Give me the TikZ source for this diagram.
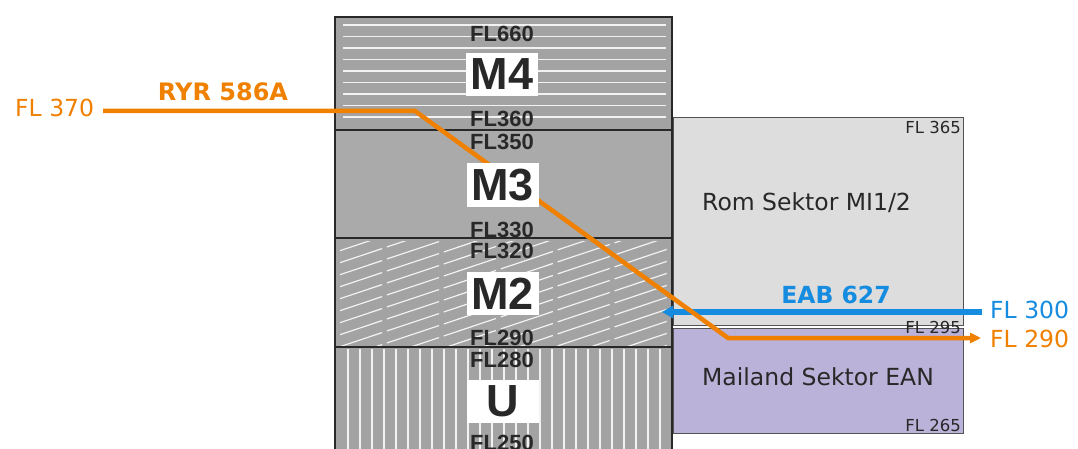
\documentclass[tikz,border=0pt]{standalone}
\usepackage{fontspec}
\setmainfont{DejaVu Sans}
\newfontfamily\lsans{Liberation Sans}
\usetikzlibrary{arrows.meta}
\definecolor{orng}{RGB}{240,128,0}
\definecolor{skyb}{RGB}{22,140,224}
\definecolor{lav}{RGB}{186,178,216}
\definecolor{lgray}{RGB}{221,221,221}
\definecolor{bandgray}{RGB}{163,163,163}
\definecolor{plaingray}{RGB}{170,170,170}
\definecolor{dark}{RGB}{40,40,40}
\tikzset{
  fltag/.style={font=\lsans\bfseries\fontsize{22}{22}\selectfont, text=dark, inner sep=0pt, anchor=base},
  mbox/.style={fill=white, minimum width=72pt, minimum height=43pt, inner sep=0pt, font=\lsans\bfseries\fontsize{45}{45}\selectfont, text=dark},
  sidelbl/.style={font=\fontsize{23.5}{23.5}\selectfont, inner sep=0pt},
  smalllbl/.style={font=\fontsize{16.5}{16.5}\selectfont, text=dark, inner sep=0pt, anchor=base east},
  whiteline/.style={draw=white!90!gray, line width=1.4pt},
  sector/.style={draw=dark!80, line width=0.8pt},
  orangeline/.style={draw=orng, line width=4.5pt, -{Triangle[length=11pt,width=10pt]}},
  blueline/.style={draw=skyb, line width=5.5pt, -{Triangle[length=11pt,width=12pt]}},
}
\begin{document}
\begin{tikzpicture}[x=1pt,y=-1pt]
\useasboundingbox (0,0) rectangle (1078,449);
\fill[white] (0,0) rectangle (1078,449);

% sector boxes on the right
\filldraw[sector, fill=lgray] (673,117) rectangle (963,325);
\filldraw[sector, fill=lav] (673,328) rectangle (963,433);
\node[sidelbl, text=dark, anchor=base west] (rom) at (702,210) {Rom Sektor MI1/2};
\node[sidelbl, text=dark, anchor=base west] (mai) at (702,385) {Mailand Sektor EAN};
\node[smalllbl] (f365) at (961,134) {FL 365};
\node[smalllbl] (f265) at (961,431) {FL 265};

% bands
\fill[bandgray] (335,17) rectangle (672,130);
\fill[plaingray] (335,130) rectangle (672,238);
\fill[bandgray] (335,238) rectangle (672,347);
\fill[bandgray] (335,347) rectangle (672,449);
% M4 horizontal lines
\foreach \k in {0,...,8} \draw[whiteline] (343,25+11.5*\k) -- (666,25+11.5*\k);
% M2 diagonal lines
\begin{scope}
\clip (340,241) rectangle (668,345);
\foreach \c in {230,242,...,470} \draw[whiteline, line width=1.2pt, dash pattern=on 55pt off 5pt] (330,\c) -- (680,\c-117);
\end{scope}
% U vertical lines
\foreach \k in {0,...,26} \draw[whiteline] (348+12*\k,349) -- (348+12*\k,449);
% borders
\draw[dark, line width=2pt] (335,449) -- (335,17) -- (672,17) -- (672,449);
\draw[dark, line width=2.5pt] (335,17) -- (672,17);
\draw[dark, line width=2pt] (335,130) -- (672,130);
\draw[dark, line width=2pt] (335,238) -- (672,238);
\draw[dark, line width=2pt] (335,347) -- (672,347);

% flights
\coordinate (b0) at (982,312);
\coordinate (b1) at (662,312);
\draw[blueline] (b0) -- (b1);
\coordinate (r0) at (103,111);
\coordinate (r1) at (415,111);
\coordinate (r2) at (728,338);
\coordinate (r3) at (981,338);
\draw[orangeline, line join=miter] (r0) -- (r1) -- (r2) -- (r3);

\node[smalllbl] (f295) at (961,333) {FL 295};

% band labels
\node[mbox] (m4) at (502,74.5) {M4};
\node[mbox] (m3) at (502.5,185) {M3};
\node[mbox] (m2) at (502.5,293.5) {M2};
\node[mbox] (u) at (502.5,401.5) {U};
\node[fltag] (t660) at (502,42) {FL660};
\node[fltag] (t360) at (502,127) {FL360};
\node[fltag] (t350) at (502,150) {FL350};
\node[fltag] (t330) at (502,237) {FL330};
\node[fltag] (t320) at (502,258) {FL320};
\node[fltag] (t290) at (502,345) {FL290};
\node[fltag] (t280) at (502,367) {FL280};
\node[fltag] (t250) at (502,450) {FL250};

% flight labels
\node[sidelbl, text=orng, anchor=base west] (fl370) at (15,117) {FL 370};
\node[sidelbl, text=orng, anchor=base, font=\bfseries\fontsize{24}{24}\selectfont] (ryr) at (223,101) {RYR 586A};
\node[sidelbl, text=skyb, anchor=base, font=\bfseries\fontsize{23.5}{23.5}\selectfont] (eab) at (836,303) {EAB 627};
\node[sidelbl, text=skyb, anchor=base west] (fl300) at (990,318) {FL 300};
\node[sidelbl, text=orng, anchor=base west] (fl290) at (990,347) {FL 290};
\end{tikzpicture}
\end{document}
